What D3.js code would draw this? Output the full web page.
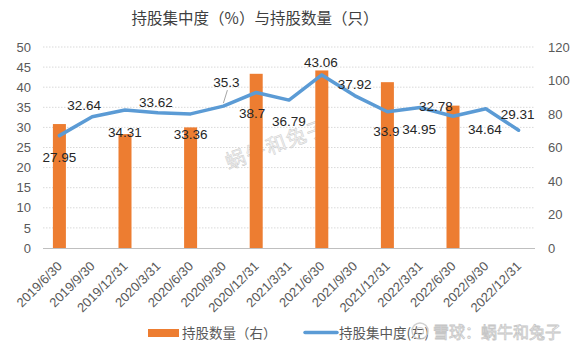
<!DOCTYPE html>
<html>
<head>
<meta charset="utf-8">
<script src="https://cdn.jsdelivr.net/npm/d3@7/dist/d3.min.js"></script>
<style>
  html, body { margin: 0; padding: 0; background: #fff; }
  svg { display: block; font-family: "Noto Sans CJK SC", "Microsoft YaHei", sans-serif; }
</style>
</head>
<body>
<svg id="chart" width="580" height="346"></svg>
<script>
// Reporting dates
const dates = ["2019/6/30", "2019/9/30", "2019/12/31", "2020/3/31", "2020/6/30",
  "2020/9/30", "2020/12/31", "2021/3/31", "2021/6/30", "2021/9/30",
  "2021/12/31", "2022/3/31", "2022/6/30", "2022/9/30", "2022/12/31"];

// Holding concentration (%), left axis
const concentration = [27.95, 32.64, 34.31, 33.62, 33.36, 35.3, 38.7, 36.79,
  43.06, 37.92, 33.9, 34.95, 32.78, 34.64, 29.31];

// Number of holdings, right axis (semi-annual reports only)
const holdings = [74, null, 68, null, 72, null, 104, null, 106, null, 99, null, 85, null, null];

const leftTicks = [0, 5, 10, 15, 20, 25, 30, 35, 40, 45, 50];
const rightTicks = [0, 20, 40, 60, 80, 100, 120];

const title = "持股集中度（%）与持股数量（只）";
const legendBar = "持股数量（右）";
const legendLine = "持股集中度(左)";

const svg = d3.select("#chart");
const plot = { left: 43, right: 535, top: 47, bottom: 248 };

const x = d3.scaleBand().domain(dates).range([plot.left, plot.right]);
const yL = d3.scaleLinear().domain([0, 50]).range([plot.bottom, plot.top]);
const yR = d3.scaleLinear().domain([0, 120]).range([plot.bottom, plot.top]);
const cx = d => x(d) + x.bandwidth() / 2;

// Title
svg.append("text")
  .attr("x", 255).attr("y", 24)
  .attr("text-anchor", "middle")
  .attr("font-size", 15.5)
  .attr("fill", "#404040")
  .text(title);

// Dotted gridlines
svg.append("g")
  .selectAll("line").data(leftTicks.filter(t => t > 0)).join("line")
  .attr("x1", plot.left).attr("x2", plot.right)
  .attr("y1", d => yL(d)).attr("y2", d => yL(d))
  .attr("stroke", "#d9d9d9").attr("stroke-width", 1)
  .attr("stroke-dasharray", "1.5,1.5");

// Left axis
const axL = svg.append("g").attr("transform", `translate(${plot.left - 12},0)`)
  .call(d3.axisLeft(yL).tickValues(leftTicks).tickSize(0).tickPadding(0));
axL.select(".domain").remove();
axL.selectAll("text").attr("font-size", 13).attr("fill", "#595959")
  .attr("font-family", "'Liberation Sans', Arial, sans-serif");

// Right axis
const axR = svg.append("g").attr("transform", `translate(${plot.right + 13},0)`)
  .call(d3.axisRight(yR).tickValues(rightTicks).tickSize(0).tickPadding(0));
axR.select(".domain").remove();
axR.selectAll("text").attr("font-size", 13).attr("fill", "#595959")
  .attr("font-family", "'Liberation Sans', Arial, sans-serif");

// Watermark across the plot
svg.append("text")
  .attr("transform", "translate(279,151) rotate(-20)")
  .attr("text-anchor", "middle")
  .attr("font-size", 20)
  .attr("letter-spacing", 1.5)
  .attr("fill", "#f4f4f4")
  .attr("stroke", "#c8c8c8")
  .attr("stroke-width", 0.45)
  .text("蜗牛和兔子");

// Bars
const barW = 13;
svg.append("g")
  .selectAll("rect").data(dates.map((d, i) => ({ d, v: holdings[i] })).filter(o => o.v != null))
  .join("rect")
  .attr("x", o => cx(o.d) - barW / 2)
  .attr("width", barW)
  .attr("y", o => yR(o.v))
  .attr("height", o => yR(0) - yR(o.v))
  .attr("fill", "#ed7d31");

// Baseline
svg.append("line")
  .attr("x1", plot.left).attr("x2", plot.right)
  .attr("y1", plot.bottom + 0.5).attr("y2", plot.bottom + 0.5)
  .attr("stroke", "#bfbfbf").attr("stroke-width", 1);

// X axis labels
const axX = svg.append("g").attr("transform", `translate(0,${plot.bottom})`)
  .call(d3.axisBottom(x).tickSize(0).tickPadding(0));
axX.select(".domain").remove();
axX.selectAll("text")
  .attr("font-size", 13).attr("fill", "#595959")
  .attr("font-family", "'Liberation Sans', Arial, sans-serif")
  .attr("text-anchor", "end")
  .attr("dy", null)
  .attr("transform", "translate(3.5,19) rotate(-45)");

// Line
const line = d3.line().x((v, i) => cx(dates[i])).y(v => yL(v));
svg.append("path")
  .datum(concentration)
  .attr("d", line)
  .attr("fill", "none")
  .attr("stroke", "#5b9bd5")
  .attr("stroke-width", 3.5)
  .attr("stroke-linejoin", "round")
  .attr("stroke-linecap", "round");

// Data label offsets from each point (layout only)
const labelOffsets = [[0, 22], [-8, -12], [0, 22], [-2, -11], [0, 20], [3, -24], [-4, 21], [0, 21],
  [-1, -13], [0, -11], [-1, 20], [-1, 21.5], [-17, -9.5], [-1, 20.6], [-1, -16]];

// Leader line for the 2020/9/30 label
const i5 = 5;
svg.append("line")
  .attr("x1", cx(dates[i5]) + 4).attr("y1", yL(concentration[i5]) - 16)
  .attr("x2", cx(dates[i5])).attr("y2", yL(concentration[i5]) - 3)
  .attr("stroke", "#a6a6a6").attr("stroke-width", 1);

svg.append("g")
  .selectAll("text").data(concentration).join("text")
  .attr("x", (v, i) => cx(dates[i]) + labelOffsets[i][0])
  .attr("y", (v, i) => yL(v) + labelOffsets[i][1])
  .attr("dy", "0.35em")
  .attr("text-anchor", "middle")
  .attr("font-size", 13.5)
  .attr("fill", "#262626")
  .attr("font-family", "'Liberation Sans', Arial, sans-serif")
  .text(v => v);

// Legend
svg.append("rect").attr("x", 148).attr("y", 329).attr("width", 31).attr("height", 8).attr("fill", "#ed7d31");
svg.append("text").attr("x", 182).attr("y", 338).attr("font-size", 13.5).attr("fill", "#595959").text(legendBar);
svg.append("line").attr("x1", 305).attr("x2", 337).attr("y1", 332.5).attr("y2", 332.5)
  .attr("stroke", "#5b9bd5").attr("stroke-width", 3.5).attr("stroke-linecap", "round");
svg.append("text").attr("x", 339).attr("y", 338).attr("font-size", 13.5).attr("fill", "#595959").text(legendLine);

// Corner mark
const mark = svg.append("g").attr("opacity", 0.85);
mark.append("circle").attr("cx", 420).attr("cy", 331).attr("r", 8)
  .attr("fill", "none").attr("stroke", "#c8c8c8").attr("stroke-width", 1.5);
mark.append("circle").attr("cx", 420).attr("cy", 331).attr("r", 3.5)
  .attr("fill", "none").attr("stroke", "#c8c8c8").attr("stroke-width", 1.2);
mark.append("text").attr("x", 433).attr("y", 338).attr("font-size", 16)
  .attr("fill", "#ffffff").attr("stroke", "#bdbdbd").attr("stroke-width", 0.8)
  .text("雪球：蜗牛和兔子");
</script>
</body>
</html>
